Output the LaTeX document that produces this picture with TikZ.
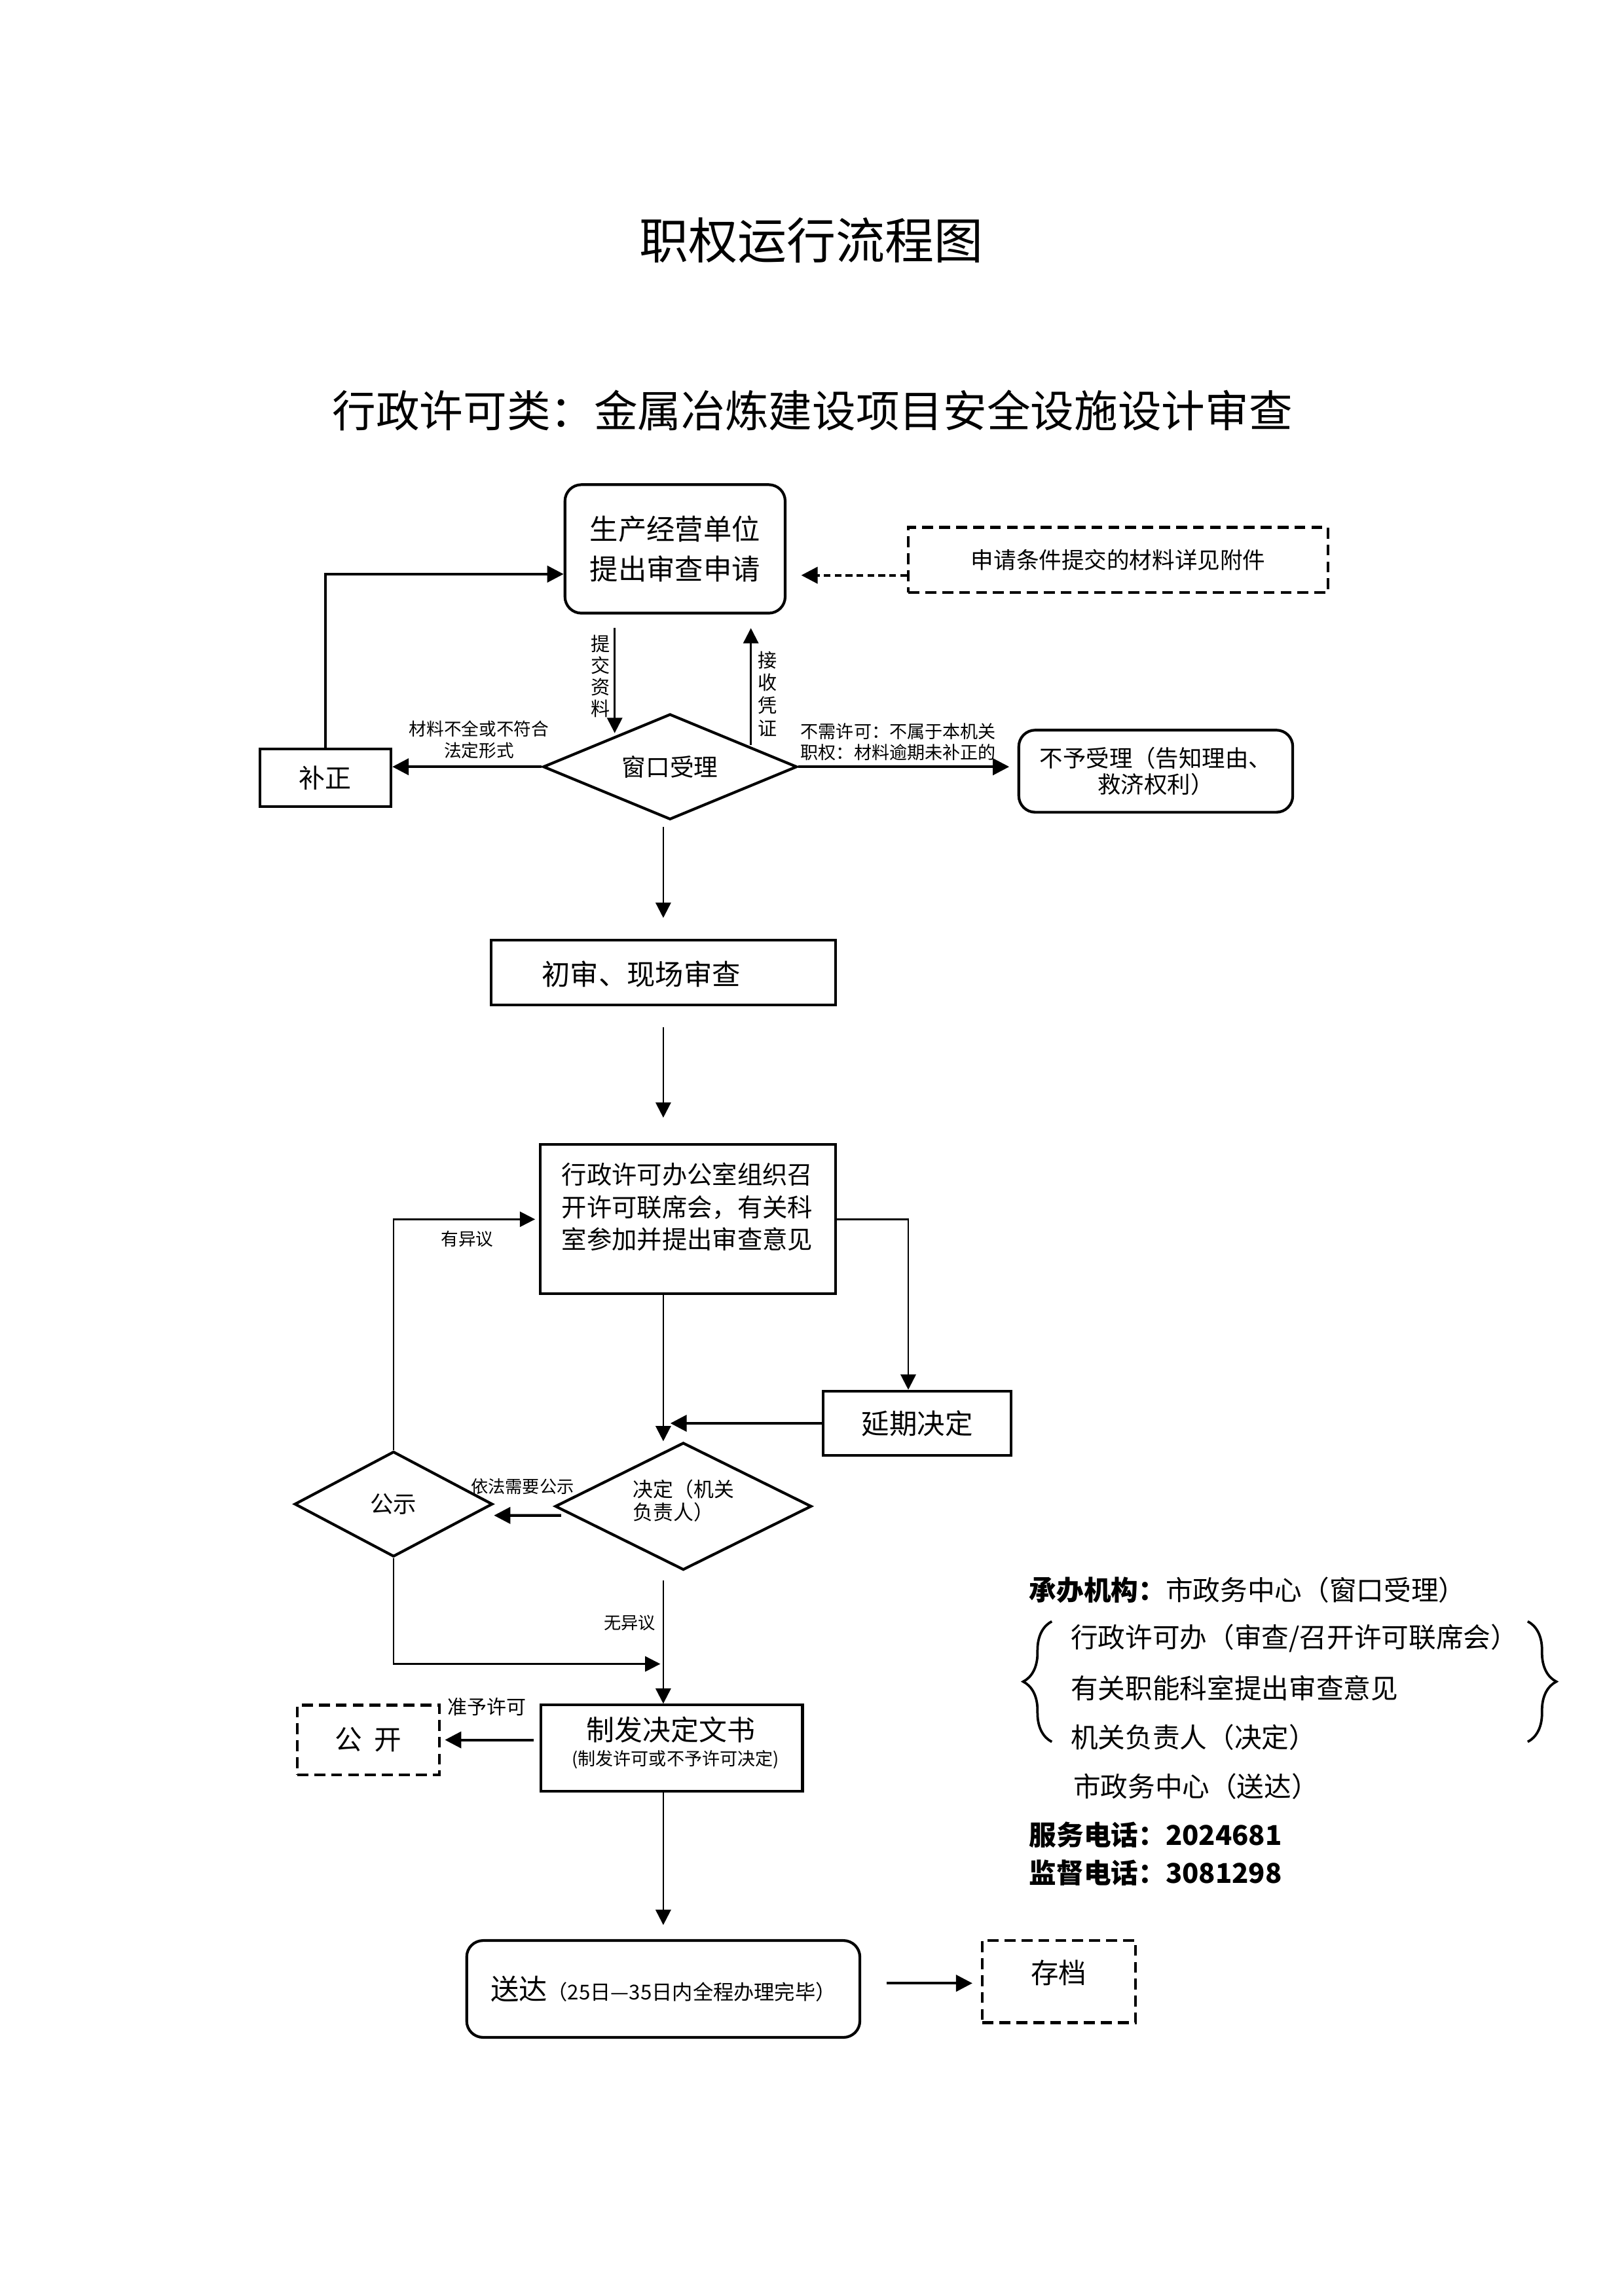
\documentclass[tikz,border=0pt]{standalone}
\usepackage{fontspec}
\setmainfont{Noto Sans CJK SC}
\usetikzlibrary{arrows.meta,calc,shapes.geometric,decorations.pathreplacing}
\newcommand{\fsz}[2]{\fontsize{#1}{#2}\selectfont}
\begin{document}
\begin{tikzpicture}[x=0.53962pt,y=-0.53962pt,
  box/.style={draw,line width=1pt,inner sep=0pt,align=center},
  rbox/.style={box,rounded corners=6pt},
  dbox/.style={box,dash pattern=on 4pt off 2.2pt},
  dia/.style={draw,line width=1pt,diamond,inner sep=0pt,align=center},
  con/.style={line width=0.6pt,-{Triangle[length=5.6pt,width=5.6pt]}},
  tcon/.style={line width=1pt,-{Triangle[length=6pt,width=6pt]}},
  lab/.style={inner sep=0pt,align=center},
]
\useasboundingbox (0,0) rectangle (1103,1559.8);

% titles
\node[lab,font=\fsz{18}{20}] (t1) at (551,163.3) {职权运行流程图};
\node[lab,font=\fsz{16}{18}] (t2) at (551.8,279) {行政许可类：金属冶炼建设项目安全设施设计审查};

% boxes
\node[rbox,minimum width=80.7pt,minimum height=47.1pt,font=\fsz{10.4}{14.5}] (apply) at (458.5,372.9)
  {生产经营单位\\提出审查申请};
\node[dbox,minimum width=153.8pt,minimum height=23.9pt,font=\fsz{8.3}{10}] (attach) at (759.5,380.4)
  {申请条件提交的材料详见附件};
\node[dia,aspect=2.4,minimum width=93.1pt,minimum height=38.7pt,font=\fsz{8.8}{10}] (win) at (455.1,520.9)
  {窗口受理};
\node[box,minimum width=48.1pt,minimum height=21.1pt,font=\fsz{9.6}{11}] (bz) at (221,528.4)
  {补正};
\node[rbox,minimum width=100.4pt,minimum height=30.1pt,font=\fsz{8.5}{9.6}] (refuse) at (785,523.9)
  {不予受理（告知理由、\\救济权利）};
\node[box,minimum width=126.2pt,minimum height=23.7pt] (chu) at (450.5,660.7) {};
\node[lab,font=\fsz{10.4}{12}] (chu-t) at (435.5,661.8) {初审、现场审查};
\node[box,minimum width=108.2pt,minimum height=54.7pt] (meet) at (467.3,828.3) {};
\node[lab,font=\fsz{9.2}{11.9}] (meet-t) at (466.8,820) {行政许可办公室组织召\\开许可联席会，有关科\\室参加并提出审查意见};
\node[box,minimum width=68.9pt,minimum height=23.6pt,font=\fsz{10.2}{12}] (delay) at (622.9,966.9)
  {延期决定};
\node[dia,aspect=2,minimum width=94pt,minimum height=46.7pt] (dec) at (464.1,1023.3) {};
\node[lab,align=left,font=\fsz{7.4}{8.6}] (dec-t) at (464.3,1019.5) {决定（机关\\负责人）};
\node[dia,aspect=1.88,minimum width=72.6pt,minimum height=38.6pt,font=\fsz{8.5}{10}] (gs) at (267.3,1021.8)
  {公示};
\node[box,minimum width=95.8pt,minimum height=31.5pt] (zf) at (456.3,1187.5) {};
\node[lab,font=\fsz{10.3}{12}] (zf-t) at (455.7,1175) {制发决定文书};
\node[lab,font=\fsz{6.5}{8}] (zf-s) at (458.8,1195.4) {(制发许可或不予许可决定)};
\node[dbox,minimum width=52.1pt,minimum height=25.5pt,font=\fsz{10}{12}] (gk) at (250.2,1182)
  {公\hspace{0.45em}开};
\node[rbox,minimum width=144.1pt,minimum height=35.5pt] (sd) at (450.5,1351.2)
  {{\fsz{10.4}{12}送达}{\fsz{7.5}{8}（25日—35日内全程办理完毕）}};
\node[dbox,minimum width=56.1pt,minimum height=30.1pt] (cd) at (719.3,1346.2) {};
\node[lab,font=\fsz{10.2}{12}] (cd-t) at (719,1340.4) {存档};

% connector labels
\node[lab,font=\fsz{7}{7.9}] (l-tj) at (408,459.4) {提\\交\\资\\料};
\node[lab,font=\fsz{7}{8.3}] (l-js) at (521.2,471.3) {接\\收\\凭\\证};
\node[lab,font=\fsz{6.4}{7.8}] (l-cl) at (325.4,502.4) {材料不全或不符合\\法定形式};
\node[lab,font=\fsz{6.5}{7.8}] (l-bx) at (610.1,504) {不需许可：不属于本机关\\职权：材料逾期未补正的};
\node[lab,font=\fsz{6.4}{8}] (l-yy) at (317.4,841.9) {有异议};
\node[lab,font=\fsz{6.3}{8}] (l-yf) at (354.9,1010) {依法需要公示};
\node[lab,font=\fsz{6.3}{8}] (l-wy) at (427.6,1102.3) {无异议};
\node[lab,font=\fsz{7.2}{8}] (l-zy) at (330.6,1159.6) {准予许可};

% helper coordinate on the main vertical line
\coordinate (vx) at (450.5,1130.4);

% connectors
\draw[tcon,dash pattern=on 2.5pt off 1.5pt] (attach.west |- 0,390.8) -- ($(apply.east |- 0,390.8)+(10,0)$);
\draw[tcon] (bz.north) |- (apply.west |- 0,390);
\draw[con] (417.5,426.7) -- (417.5,498);
\draw[con] (510,506) -- (510,426.7);
\draw[tcon] (win.west) -- (bz.east |- win.west);
\draw[tcon,shorten >=3pt] (win.east) -- (refuse.west |- win.east);
\draw[con,shorten <=2.2pt,shorten >=7.7pt] (vx |- win.south) -- (vx |- chu.north);
\draw[con,shorten <=7.7pt,shorten >=9.4pt] (vx |- chu.south) -- (vx |- meet.north);
\draw[con] (meet.east) -| ($(delay.north)+(-6,0)$);
\draw[tcon] (delay.west) -- ($(vx |- delay.west)+(4.8,0)$);
\draw[con] (vx |- meet.south) -- (vx |- dec.north);
\draw[tcon] ($(dec.west)+(5,6.2)$) -- ($(gs.east)+(0,7.7)$);
\draw[con] (gs.north) |- ($(meet.west)+(-2.7,0)$);
\draw[con] (gs.south) |- ($(vx)+(-2,0)$);
\draw[con] ($(dec.south -| vx)+(0,6.3)$) -- (vx |- zf.north);
\draw[tcon,shorten <=2.2pt,shorten >=1.5pt] (zf.west |- gk.east) -- (gk.east);
\draw[con,shorten >=5.2pt] (vx |- zf.south) -- (vx |- sd.north);
\draw[tcon,shorten <=9.2pt,shorten >=3.2pt] (sd.east |- 0,1347.3) -- (cd.west |- 0,1347.3);

% right-hand information block
\node[lab,anchor=west,font=\fsz{10}{12}] (i1) at (698.7,1080.4) {{\bfseries 承办机构：}市政务中心（窗口受理）};
\node[lab,anchor=west,font=\fsz{10}{12}] (i2) at (726.9,1113.1) {行政许可办（审查/召开许可联席会）};
\node[lab,anchor=west,font=\fsz{10}{12}] (i3) at (726.9,1146.7) {有关职能科室提出审查意见};
\node[lab,anchor=west,font=\fsz{10}{12}] (i4) at (726.9,1180.2) {机关负责人（决定）};
\node[lab,anchor=west,font=\fsz{10}{12}] (i5) at (728.6,1213.8) {市政务中心（送达）};
\node[lab,anchor=west,font=\fsz{10}{12}\bfseries] (i6) at (698.7,1246.5) {服务电话：2024681};
\node[lab,anchor=west,font=\fsz{10}{12}\bfseries] (i7) at (698.7,1272.2) {监督电话：3081298};
\draw[line width=0.9pt,decorate,decoration={brace,amplitude=10.5pt}] (714.4,1183.3) -- (714.4,1101.5);
\draw[line width=0.9pt,decorate,decoration={brace,amplitude=10.5pt}] (1037.6,1101.5) -- (1037.6,1183.3);
\end{tikzpicture}
\end{document}
